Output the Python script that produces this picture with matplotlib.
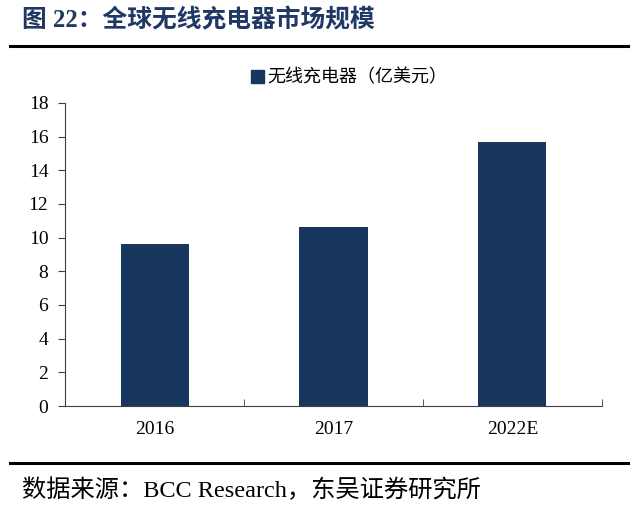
import matplotlib
matplotlib.use('Agg')
import matplotlib.pyplot as plt
from matplotlib.lines import Line2D
from matplotlib.patches import Patch

plt.rcParams['font.family'] = ['Liberation Serif', 'Noto Sans CJK SC', 'DejaVu Sans']

years = ['2016', '2017', '2022E']
market = [9.6, 10.65, 15.7]
series_name = '无线充电器（亿美元）'
title = '图 22：全球无线充电器市场规模'
source = '数据来源：BCC Research，东吴证券研究所'

bar_color = '#17375e'
title_color = '#1f3864'

fig = plt.figure(figsize=(6.4, 5.17), dpi=100)
ax = fig.add_axes([0.1016, 0.2147, 0.839, 0.5861])

x = list(range(len(years)))
ax.bar(x, market, width=0.38, color=bar_color)

ax.set_xlim(-0.5, len(years) - 0.5)
ax.set_ylim(0, 18)
ax.set_yticks(range(0, 19, 2))
ax.set_xticks(x)
ax.set_xticklabels(years)
ax.set_xticks([i + 0.5 for i in range(len(years))], minor=True)
ax.tick_params(axis='x', which='major', length=0, labelsize=14, pad=11)
ax.tick_params(axis='x', which='minor', direction='in', length=5, color='#404040')
ax.tick_params(axis='y', length=5, labelsize=14, color='#404040', pad=7)

for s in ['top', 'right']:
    ax.spines[s].set_visible(False)
for s in ['left', 'bottom']:
    ax.spines[s].set_color('#404040')

ax.legend(handles=[Patch(color=bar_color, label=series_name)],
          loc='lower center', bbox_to_anchor=(0.53, 1.0), frameon=False,
          fontsize=13, handlelength=0.7, handleheight=0.7, handletextpad=0.2)

fig.text(0.034, 0.96, title, fontsize=17.8, fontweight='bold',
         color=title_color, va='center')
fig.add_artist(Line2D([0.016, 0.981], [0.911, 0.911], color='black', lw=2.2))
fig.add_artist(Line2D([0.016, 0.981], [0.104, 0.104], color='black', lw=2.2))
fig.text(0.034, 0.052, source, fontsize=17.5, va='center')

fig.savefig('out.png', dpi=100)
